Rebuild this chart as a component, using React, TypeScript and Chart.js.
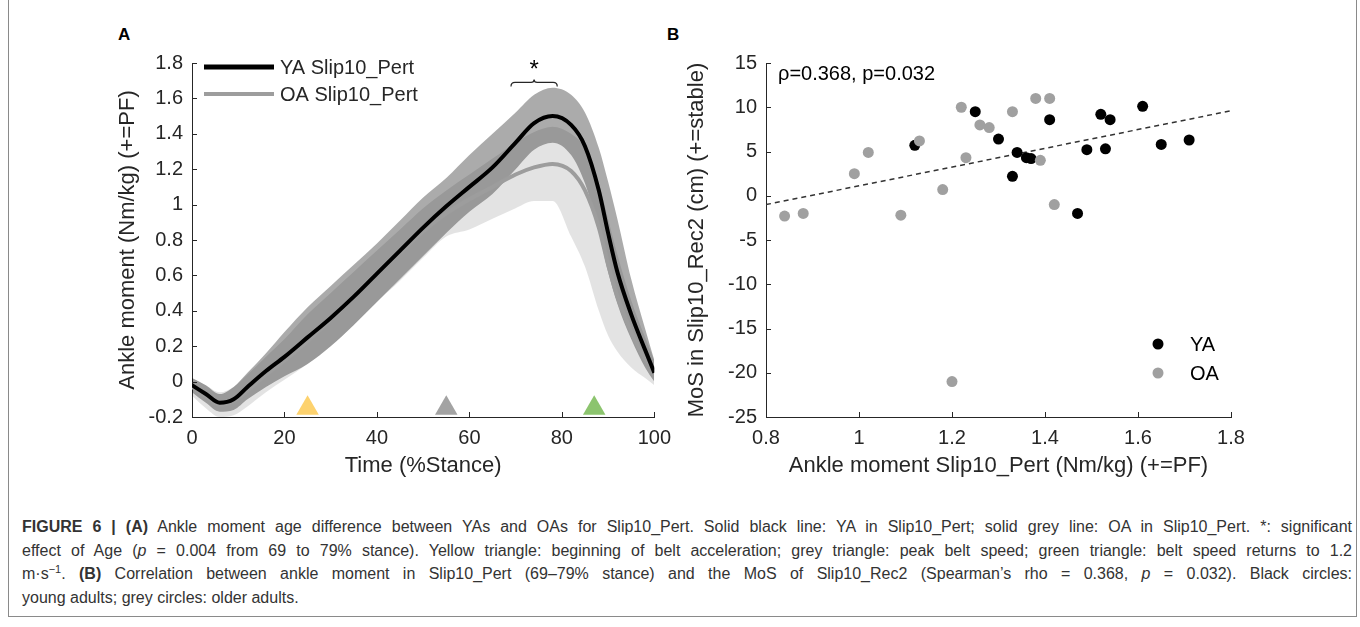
import React, { useEffect, useRef } from "react";
import { Chart, registerables } from "chart.js";
Chart.register(...registerables);

// ---------- Panel A data ----------
const stanceTime = [0, 3, 6, 9, 12, 16, 20, 25, 30, 35, 40, 45, 50, 55, 60, 65, 70, 74, 78, 82, 85, 88, 90, 92, 95, 98, 100];
const yaMean = [-0.02, -0.07, -0.12, -0.1, -0.03, 0.06, 0.14, 0.25, 0.36, 0.48, 0.61, 0.74, 0.87, 0.99, 1.1, 1.21, 1.35, 1.46, 1.5, 1.45, 1.33, 1.08, 0.84, 0.62, 0.38, 0.18, 0.05];
const yaUpper = [0.02, -0.02, -0.07, -0.03, 0.05, 0.16, 0.28, 0.42, 0.54, 0.66, 0.78, 0.91, 1.04, 1.15, 1.28, 1.4, 1.52, 1.62, 1.66, 1.62, 1.52, 1.32, 1.13, 0.92, 0.58, 0.3, 0.12];
const yaLower = [-0.06, -0.12, -0.17, -0.16, -0.1, -0.03, 0.03, 0.1, 0.2, 0.32, 0.45, 0.58, 0.71, 0.84, 0.96, 1.06, 1.2, 1.31, 1.35, 1.28, 1.12, 0.85, 0.62, 0.44, 0.24, 0.08, 0.0];
const oaMean = [-0.03, -0.08, -0.13, -0.11, -0.05, 0.04, 0.12, 0.23, 0.35, 0.48, 0.61, 0.73, 0.85, 0.95, 1.03, 1.1, 1.17, 1.21, 1.23, 1.19, 1.08, 0.87, 0.66, 0.48, 0.28, 0.13, 0.07];
const oaUpper = [0.02, -0.02, -0.06, -0.03, 0.04, 0.14, 0.24, 0.38, 0.5, 0.62, 0.74, 0.86, 0.98, 1.08, 1.17, 1.26, 1.35, 1.41, 1.44, 1.4, 1.32, 1.12, 0.92, 0.72, 0.46, 0.25, 0.12];
const oaLower = [-0.08, -0.15, -0.2, -0.19, -0.14, -0.06, 0.01, 0.1, 0.2, 0.32, 0.45, 0.57, 0.7, 0.82, 0.86, 0.92, 0.98, 1.02, 1.02, 0.82, 0.65, 0.4, 0.26, 0.17, 0.08, 0.02, -0.02];
const eventTimes = [25, 55, 87];
const eventLevel = -0.15;
const sigWindow = [69, 79];
const sigLevel = 1.69;
const xTicksA = [0, 20, 40, 60, 80, 100];
const yTicksA = [-0.2, 0, 0.2, 0.4, 0.6, 0.8, 1, 1.2, 1.4, 1.6, 1.8];
const legendA = ["YA Slip10_Pert", "OA Slip10_Pert"];

// ---------- Panel B data ----------
const yaPeakMoment = [1.12, 1.25, 1.3, 1.33, 1.34, 1.36, 1.37, 1.41, 1.47, 1.49, 1.52, 1.53, 1.54, 1.61, 1.65, 1.71];
const yaMos = [5.7, 9.5, 6.4, 2.2, 4.9, 4.3, 4.2, 8.6, -2.0, 5.2, 9.2, 5.3, 8.6, 10.1, 5.8, 6.3];
const oaPeakMoment = [0.84, 0.88, 0.99, 1.02, 1.09, 1.13, 1.18, 1.2, 1.22, 1.23, 1.26, 1.28, 1.33, 1.38, 1.39, 1.41, 1.42];
const oaMos = [-2.3, -2.0, 2.5, 4.9, -2.2, 6.2, 0.7, -21.0, 10.0, 4.3, 8.0, 7.7, 9.5, 11.0, 4.0, 11.0, -1.0];
const fitX = [0.8, 1.8];
const fitY = [-1.0, 9.6];
const xTicksB = [0.8, 1, 1.2, 1.4, 1.6, 1.8];
const yTicksB = [-25, -20, -15, -10, -5, 0, 5, 10, 15];
const statText = "ρ=0.368, p=0.032";
const legendB = ["YA", "OA"];

const AXIS = "#262626";
const FONT = "'Liberation Sans', Arial, Helvetica, sans-serif";
const GREY_LINE = "#9d9d9d";
const GREY_DOT = "#a0a0a0";
const EVENT_COLORS = ["#fdd26e", "#a3a3a3", "#8cc46e"];

const fmt = (v: number) => String(Number(v.toFixed(2)));

const inwardTicks = {
  id: "inwardTicks",
  afterDatasetsDraw(chart: any) {
    const { ctx, chartArea, scales } = chart;
    ctx.save();
    ctx.strokeStyle = AXIS;
    ctx.lineWidth = 1;
    scales.x.ticks.forEach((t: any) => {
      const px = Math.round(scales.x.getPixelForValue(t.value)) + 0.5;
      ctx.beginPath();
      ctx.moveTo(px, chartArea.bottom);
      ctx.lineTo(px, chartArea.bottom - 5);
      ctx.stroke();
    });
    scales.y.ticks.forEach((t: any) => {
      const py = Math.round(scales.y.getPixelForValue(t.value)) + 0.5;
      ctx.beginPath();
      ctx.moveTo(chartArea.left, py);
      ctx.lineTo(chartArea.left + 5, py);
      ctx.stroke();
    });
    ctx.restore();
  },
};

const panelAExtras = {
  id: "panelAExtras",
  afterDraw(chart: any) {
    const { ctx, chartArea, scales } = chart;
    ctx.save();
    // legend
    const lx = chartArea.left + 12;
    const rows = [
      { y: chartArea.top + 4, color: "#000", w: 5, label: legendA[0] },
      { y: chartArea.top + 31, color: GREY_LINE, w: 4, label: legendA[1] },
    ];
    rows.forEach((r) => {
      ctx.strokeStyle = r.color;
      ctx.lineWidth = r.w;
      ctx.beginPath();
      ctx.moveTo(lx, r.y);
      ctx.lineTo(lx + 70, r.y);
      ctx.stroke();
      ctx.fillStyle = AXIS;
      ctx.font = `20px ${FONT}`;
      ctx.textAlign = "left";
      ctx.textBaseline = "middle";
      ctx.fillText(r.label, lx + 76, r.y + 1);
    });
    // significance bracket
    const x0 = scales.x.getPixelForValue(sigWindow[0]);
    const x1 = scales.x.getPixelForValue(sigWindow[1]);
    const xm = (x0 + x1) / 2;
    const by = scales.y.getPixelForValue(sigLevel);
    ctx.strokeStyle = AXIS;
    ctx.lineWidth = 1.2;
    ctx.beginPath();
    ctx.moveTo(x0, by + 4);
    ctx.quadraticCurveTo(x0, by, x0 + 4, by);
    ctx.lineTo(xm - 3, by);
    ctx.quadraticCurveTo(xm, by, xm, by - 3);
    ctx.quadraticCurveTo(xm, by, xm + 3, by);
    ctx.lineTo(x1 - 4, by);
    ctx.quadraticCurveTo(x1, by, x1, by + 4);
    ctx.stroke();
    ctx.fillStyle = "#000";
    ctx.font = `24px ${FONT}`;
    ctx.textAlign = "center";
    ctx.textBaseline = "middle";
    ctx.fillText("*", xm, by - 12);
    ctx.restore();
  },
};

const panelBExtras = {
  id: "panelBExtras",
  afterDraw(chart: any) {
    const { ctx, chartArea } = chart;
    ctx.save();
    ctx.fillStyle = "#000";
    ctx.font = `20px ${FONT}`;
    ctx.textAlign = "left";
    ctx.textBaseline = "middle";
    ctx.fillText(statText, chartArea.left + 12, chartArea.top + 11);
    const lx = chartArea.right - 73;
    const ys = [chartArea.bottom - 73, chartArea.bottom - 44];
    const cols = ["#000", GREY_DOT];
    ys.forEach((y, i) => {
      ctx.fillStyle = cols[i];
      ctx.beginPath();
      ctx.arc(lx, y, 5.5, 0, Math.PI * 2);
      ctx.fill();
      ctx.fillStyle = "#000";
      ctx.fillText(legendB[i], lx + 32, y + 1);
    });
    ctx.restore();
  },
};

function axisCommon(ticks: number[], width: number | null, height: number | null, title: string, titlePad: any) {
  return {
    type: "linear",
    min: ticks[0],
    max: ticks[ticks.length - 1],
    afterBuildTicks: (s: any) => {
      s.ticks = ticks.map((v) => ({ value: v }));
    },
    afterFit: (s: any) => {
      if (width !== null) s.width = width;
      if (height !== null) s.height = height;
    },
    grid: { display: true, drawOnChartArea: false, drawTicks: false },
    border: { display: true, color: AXIS, width: 1 },
    ticks: {
      color: AXIS,
      font: { family: FONT, size: 20 },
      padding: height !== null ? 9 : 9,
      maxRotation: 0,
      autoSkip: false,
      callback: (v: any) => fmt(Number(v)),
    },
    title: { display: true, text: title, color: AXIS, font: { family: FONT, size: 22 }, padding: titlePad },
  };
}

function PanelA() {
  const ref = useRef<HTMLCanvasElement>(null);
  useEffect(() => {
    const pts = (arr: number[]) => stanceTime.map((t, i) => ({ x: t, y: arr[i] }));
    const band = { pointRadius: 0, borderWidth: 0, cubicInterpolationMode: "monotone" };
    const chart = new Chart(ref.current as HTMLCanvasElement, {
      type: "line",
      data: {
        datasets: [
          { ...band, data: pts(oaUpper), fill: "+1", backgroundColor: "rgba(0,0,0,0.11)", order: 10 },
          { ...band, data: pts(oaLower), fill: false, order: 10 },
          { ...band, data: pts(yaUpper), fill: "+1", backgroundColor: "rgba(0,0,0,0.33)", order: 9 },
          { ...band, data: pts(yaLower), fill: false, order: 9 },
          { data: pts(oaMean), borderColor: GREY_LINE, borderWidth: 4, pointRadius: 0, fill: false, cubicInterpolationMode: "monotone", order: 3 },
          { data: pts(yaMean), borderColor: "#000", borderWidth: 4, pointRadius: 0, fill: false, cubicInterpolationMode: "monotone", order: 2 },
          {
            data: eventTimes.map((t) => ({ x: t, y: eventLevel })),
            showLine: false,
            pointStyle: "triangle",
            pointRadius: 13,
            pointBorderWidth: 0,
            pointBackgroundColor: EVENT_COLORS,
            order: 1,
          },
        ] as any,
      },
      options: {
        animation: false,
        responsive: false,
        layout: { padding: { left: 0, top: 23, right: 23, bottom: 11 } },
        plugins: { legend: { display: false }, tooltip: { enabled: false } },
        scales: {
          x: axisCommon(xTicksA, null, 62, "Time (%Stance)", { top: 0, bottom: 0 }),
          y: axisCommon(yTicksA, 92, null, "Ankle moment (Nm/kg) (+=PF)", { top: 15, bottom: 0 }),
        } as any,
      },
      plugins: [inwardTicks, panelAExtras],
    } as any);
    return () => chart.destroy();
  }, []);
  return <canvas ref={ref} width={580} height={450} style={{ position: "absolute", left: 100, top: 40, width: 580, height: 450 }} />;
}

function PanelB() {
  const ref = useRef<HTMLCanvasElement>(null);
  useEffect(() => {
    const chart = new Chart(ref.current as HTMLCanvasElement, {
      type: "scatter",
      data: {
        datasets: [
          { data: yaPeakMoment.map((x, i) => ({ x, y: yaMos[i] })), backgroundColor: "#000", pointRadius: 5.5, pointBorderWidth: 0, order: 2 },
          { data: oaPeakMoment.map((x, i) => ({ x, y: oaMos[i] })), backgroundColor: GREY_DOT, pointRadius: 5.5, pointBorderWidth: 0, order: 1 },
          {
            type: "line",
            data: fitX.map((x, i) => ({ x, y: fitY[i] })),
            borderColor: "#333",
            borderWidth: 1.5,
            borderDash: [5, 4],
            pointRadius: 0,
            fill: false,
            order: 5,
          },
        ] as any,
      },
      options: {
        animation: false,
        responsive: false,
        layout: { padding: { left: 0, top: 23, right: 69, bottom: 11 } },
        plugins: { legend: { display: false }, tooltip: { enabled: false } },
        scales: {
          x: axisCommon(xTicksB, null, 62, "Ankle moment Slip10_Pert (Nm/kg) (+=PF)", { top: 0, bottom: 0 }),
          y: axisCommon(yTicksB, 94, null, "MoS in Slip10_Rec2 (cm) (+=stable)", { top: 12, bottom: 0 }),
        } as any,
      },
      plugins: [inwardTicks, panelBExtras],
    } as any);
    return () => chart.destroy();
  }, []);
  return <canvas ref={ref} width={628} height={450} style={{ position: "absolute", left: 672, top: 40, width: 628, height: 450 }} />;
}

const captionLines = [
  [
    { t: "FIGURE 6 | (A)", b: true },
    { t: " Ankle moment age difference between YAs and OAs for Slip10_Pert. Solid black line: YA in Slip10_Pert; solid grey line: OA in Slip10_Pert. *: significant" },
  ],
  [
    { t: "effect of Age (" },
    { t: "p", i: true },
    { t: " = 0.004 from 69 to 79% stance). Yellow triangle: beginning of belt acceleration; grey triangle: peak belt speed; green triangle: belt speed returns to 1.2" },
  ],
  [
    { t: "m·s" },
    { t: "−1", sup: true },
    { t: ". " },
    { t: "(B)", b: true },
    { t: " Correlation between ankle moment in Slip10_Pert (69–79% stance) and the MoS of Slip10_Rec2 (Spearman’s rho = 0.368, " },
    { t: "p", i: true },
    { t: " = 0.032). Black circles:" },
  ],
  [{ t: "young adults; grey circles: older adults." }],
];

export default function App() {
  return (
    <div style={{ position: "absolute", left: 0, top: 0, width: 1360, height: 627, background: "#fff", overflow: "hidden" }}>
      <div style={{ position: "absolute", left: 8, top: -2, width: 1347, height: 618, borderLeft: "1px solid #8a8a8a", borderRight: "1px solid #8a8a8a", borderBottom: "1px solid #8a8a8a" }} />
      <div style={{ position: "absolute", left: 118, top: 25, font: `bold 17px ${FONT}`, color: "#000" }}>A</div>
      <div style={{ position: "absolute", left: 667, top: 25, font: `bold 17px ${FONT}`, color: "#000" }}>B</div>
      <PanelA />
      <PanelB />
      <div style={{ position: "absolute", left: 22, top: 515, width: 1330, fontFamily: FONT, fontSize: 16, lineHeight: "23.5px", color: "#333" }}>
        {captionLines.map((line, li) => (
          <div key={li} style={{ textAlign: "justify", textAlignLast: li < 3 ? "justify" : "left", whiteSpace: "nowrap" }}>
            {line.map((s: any, si) =>
              s.sup ? (
                <sup key={si} style={{ fontSize: 11, lineHeight: 0 }}>{s.t}</sup>
              ) : (
                <span key={si} style={{ fontWeight: s.b ? "bold" : "normal", fontStyle: s.i ? "italic" : "normal" }}>{s.t}</span>
              )
            )}
          </div>
        ))}
      </div>
    </div>
  );
}
